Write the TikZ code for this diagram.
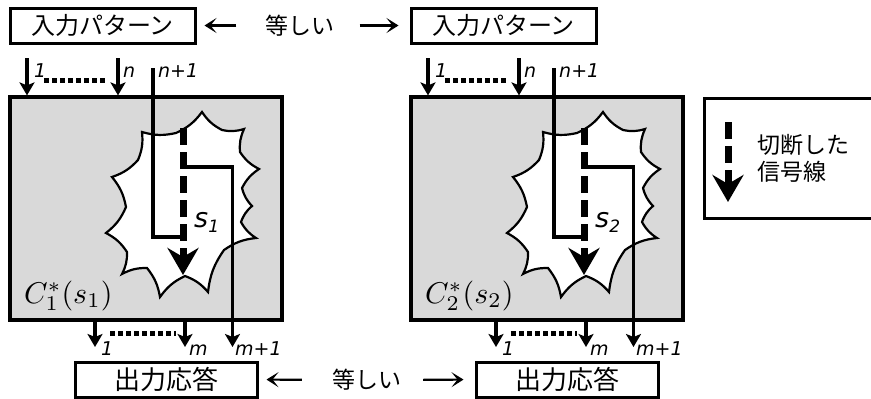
\documentclass[tikz,border=0pt]{standalone}
\usepackage{fontspec}
\newfontfamily\jp{Noto Sans CJK JP}
\newfontfamily\lab{DejaVu Sans}
\usetikzlibrary{arrows.meta}
\definecolor{panelgray}{RGB}{217,217,217}
\tikzset{
 box/.style={draw, line width=3pt, minimum height=35pt, inner sep=0pt, font=\jp\fontsize{24}{24}\selectfont},
 obox/.style={box, font=\jp\fontsize{26}{26}\selectfont},
 circuit/.style={draw, line width=3.2pt, fill=panelgray, minimum width=272pt, minimum height=223pt, inner sep=0pt},
 burst/.style={draw, line width=2.2pt, fill=white, line join=miter},
 bb/.style={bend right=14},
 wire/.style={line width=3.4pt},
 sig/.style={wire, -{Stealth[length=13pt,width=15pt,inset=3pt]}},
 dotline/.style={line width=5pt, dash pattern=on 4.5pt off 3.5pt},
 cutline/.style={line width=7pt, dash pattern=on 17pt off 7pt, -{Stealth[length=27pt,width=31pt,inset=9pt]}},
 lbl/.style={font=\lab\itshape\fontsize{19}{19}\selectfont, inner sep=0pt, anchor=base west},
 eqtext/.style={font=\jp\fontsize{23}{27}\selectfont, inner sep=0pt},
 eqarrow/.style={line width=2.2pt, -{Stealth[length=12pt,width=15pt,inset=6pt]}},
}
\newcommand\panel[3]{%
\begin{scope}[shift={(#1,0)}]
 \node[box, minimum width=185pt] (#3in) at (102.5,25.5) {入力パターン};
 \node[circuit] (#3c) at (146,208.5) {};
 \node[obox, minimum width=182pt] (#3out) at (166,379.5) {出力応答};
 \draw[burst] (202,112) to[bb] (222,130) to[bb] (244,129) to[bb] (240,152)
   to[bb] (259,169) to[bb] (242,188) to[bb] (252,206) to[bb] (241,222)
   to[bb] (256,238) to[bb] (224,250) to[bb] (208,292) to[bb] (185,276)
   to[bb] (160,297) to[bb] (147,268) to[bb] (122,274) to[bb] (127,252)
   to[bb] (106,233) to[bb] (126,207) to[bb] (112,177) to[bb] (138,160)
   to[bb] (142,132) to[bb] (176,133) to[bb] cycle;
 % inputs
 \coordinate (#3a1) at (27,58);
 \coordinate (#3an) at (118,58);
 \coordinate (#3ap) at (153,68);
 \coordinate (#3d1) at (44,80);
 \coordinate (#3d2) at (108,80);
 \draw[sig] (#3a1) -- (#3a1 |- #3c.north);
 \draw[sig] (#3an) -- (#3an |- #3c.north);
 \draw[dotline] (#3d1) -- (#3d2);
 \node[lbl] (#3l1) at (34,77) {1};
 \node[lbl] (#3ln) at (123,77) {n};
 \node[lbl] (#3lp) at (158,77) {n+1};
 % internal wiring
 \coordinate (#3k1) at (153,237);
 \coordinate (#3cut1) at (183,128);
 \coordinate (#3cut2) at (183,275);
 \coordinate (#3j) at (183,167);
 \coordinate (#3r) at (232.5,167);
 \coordinate (#3o3) at (232.5,347);
 \draw[wire] (#3ap) -- (#3k1) -- (#3k1 -| #3cut1);
 \draw[cutline] (#3cut1) -- (#3cut2);
 \draw[sig] (#3j) -- (#3r) -- (#3o3);
 \node[font=\lab\itshape\fontsize{27}{27}\selectfont, inner sep=0pt, anchor=base west] (#3s) at (194,227) {s\raisebox{-5pt}{\fontsize{17}{17}\selectfont #2}};
 \node[inner sep=0pt, anchor=base west] (#3name) at (24,303) {\scalebox{3}{$C^*_{#2}(s_{#2})$}};
 % outputs
 \coordinate (#3o1) at (95,347);
 \coordinate (#3o2) at (185,347);
 \coordinate (#3e1) at (110,333);
 \coordinate (#3e2) at (176,333);
 \draw[sig] (#3o1 |- #3c.south) -- (#3o1);
 \draw[sig] (#3o2 |- #3c.south) -- (#3o2);
 \draw[dotline] (#3e1) -- (#3e2);
 \node[lbl] (#3m1) at (101,355) {1};
 \node[lbl] (#3mm) at (189,355) {m};
 \node[lbl] (#3mp) at (235,355) {m+1};
\end{scope}}
\begin{document}
\begin{tikzpicture}[x=1pt,y=-1pt]
\useasboundingbox (0,0) rectangle (871,399);
\panel{0}{1}{L}
\panel{401}{2}{R}
% equalities
\node[eqtext] (eqtop) at (300,25.5) {等しい};
\draw[eqarrow, shorten <=29pt, shorten >=8pt] (eqtop.west) -- (Lin.east);
\draw[eqarrow, shorten <=25pt, shorten >=11pt] (eqtop.east) -- (Rin.west);
\node[eqtext] (eqbot) at (366.5,380) {等しい};
\draw[eqarrow, shorten <=30pt, shorten >=8pt] (eqbot.west) -- (Lout.east);
\draw[eqarrow, shorten <=22pt, shorten >=11pt] (eqbot.east) -- (Rout.west);
% legend
\node[draw, line width=3pt, minimum width=180pt, minimum height=120pt, anchor=north west, inner sep=0pt] (legend) at (703,97) {};
\coordinate (leg1) at (728,122);
\coordinate (leg2) at (728,202);
\draw[cutline] (leg1) -- (leg2);
\node[eqtext, align=left, anchor=west] (legtext) at (757,158.5) {切断した\\信号線};
\end{tikzpicture}
\end{document}
